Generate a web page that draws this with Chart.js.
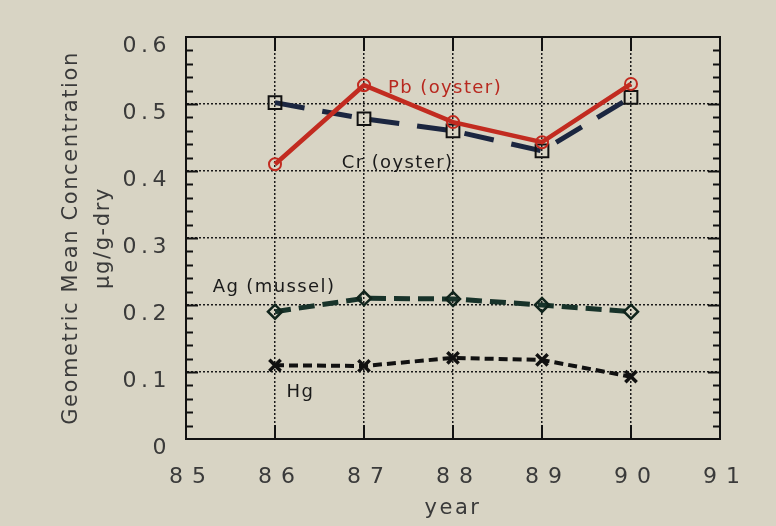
<!DOCTYPE html>
<html>
<head>
<meta charset="utf-8">
<script src="https://cdn.jsdelivr.net/npm/chart.js@4/dist/chart.umd.min.js"></script>
<style>
    html, body { margin: 0; padding: 0; background: #d8d4c4; }
    #chart { display: block; }
</style>
</head>
<body>
<canvas id="chart" width="776" height="526"></canvas>
<script>
// --- data ---
const years = [86, 87, 88, 89, 90];
const pbOyster = [0.410, 0.528, 0.473, 0.443, 0.530];
const crOyster = [0.502, 0.478, 0.460, 0.430, 0.510];
const agMussel = [0.190, 0.210, 0.209, 0.200, 0.190];
const hg = [0.110, 0.109, 0.121, 0.118, 0.093];

const xTicks = [85, 86, 87, 88, 89, 90, 91];
const yTicks = [0, 0.1, 0.2, 0.3, 0.4, 0.5, 0.6];

const toPoints = vals => years.map((yr, i) => ({ x: yr, y: vals[i] }));

const FONT = '"DejaVu Sans", sans-serif';
const INK = '#3a3a3a';

// in-plot series names, anchored in data units
const seriesLabels = [
    { text: 'Pb (oyster)', x: 87.27, y: 0.524, color: '#b8281f' },
    { text: 'Cr (oyster)', x: 86.75, y: 0.412, color: '#1a1a1a' },
    { text: 'Ag (mussel)', x: 85.30, y: 0.227, color: '#1a1a1a' },
    { text: 'Hg', x: 86.13, y: 0.069, color: '#1a1a1a' }
];

// letter spacing of the axis lettering (the original is typeset wide)
const spacing = {
    x: { ticks: '9px', title: '2.5px' },
    y: { ticks: '4.5px', title: '1.6px' }
};

const framePlugin = {
    id: 'frame',
    afterLayout(chart) {
        const ctx = chart.ctx;
        Object.values(chart.scales).forEach(scale => {
            if (scale._spaced) return;
            scale._spaced = true;
            const s = spacing[scale.id];
            const drawTitle = scale.drawTitle.bind(scale);
            const drawLabels = scale.drawLabels.bind(scale);
            scale.drawTitle = () => {
                ctx.letterSpacing = s.title;
                drawTitle();
                ctx.letterSpacing = '0px';
            };
            scale.drawLabels = area => {
                ctx.letterSpacing = s.ticks;
                drawLabels(area);
                ctx.letterSpacing = '0px';
            };
        });
    },
    beforeDraw(chart) {
        const ctx = chart.ctx;
        ctx.save();
        ctx.fillStyle = '#d8d4c4';
        ctx.fillRect(0, 0, chart.width, chart.height);
        ctx.restore();
    },
    afterDraw(chart) {
        const { ctx, chartArea: a, scales: { x, y } } = chart;
        ctx.save();
        ctx.strokeStyle = '#111';
        ctx.lineWidth = 2;
        ctx.strokeRect(a.left, a.top, a.right - a.left, a.bottom - a.top);

        ctx.beginPath();
        // minor ticks left/right
        for (let v = 0.02; v < 0.6; v += 0.02) {
            const py = Math.round(y.getPixelForValue(v)) + 0.5;
            const major = Math.abs(v * 10 - Math.round(v * 10)) < 1e-6;
            const len = major ? 12 : 7;
            ctx.moveTo(a.left, py); ctx.lineTo(a.left + len, py);
            ctx.moveTo(a.right, py); ctx.lineTo(a.right - len, py);
        }
        // major ticks top/bottom
        xTicks.slice(1, -1).forEach(t => {
            const px = Math.round(x.getPixelForValue(t));
            ctx.moveTo(px, a.bottom); ctx.lineTo(px, a.bottom - 14);
            ctx.moveTo(px, a.top); ctx.lineTo(px, a.top + 14);
        });
        ctx.stroke();

        ctx.font = '18px ' + FONT;
        ctx.textAlign = 'left';
        ctx.textBaseline = 'middle';
        ctx.letterSpacing = '1.4px';
        seriesLabels.forEach(l => {
            ctx.fillStyle = l.color;
            ctx.fillText(l.text, x.getPixelForValue(l.x), y.getPixelForValue(l.y));
        });
        ctx.restore();
    }
};

new Chart(document.getElementById('chart'), {
    type: 'line',
    data: {
        datasets: [
            {
                label: 'Pb (oyster)',
                data: toPoints(pbOyster),
                borderColor: '#c22b20',
                borderWidth: 4.5,
                pointStyle: 'circle',
                pointRadius: 6,
                pointBorderWidth: 2,
                pointBorderColor: '#c22b20',
                pointBackgroundColor: 'rgba(0,0,0,0)',
                order: 0
            },
            {
                label: 'Cr (oyster)',
                data: toPoints(crOyster),
                borderColor: '#1b2640',
                borderWidth: 5,
                borderDash: [30, 18],
                pointStyle: 'rect',
                pointRadius: 9,
                pointBorderWidth: 2,
                pointBorderColor: '#111',
                pointBackgroundColor: 'rgba(0,0,0,0)',
                order: 1
            },
            {
                label: 'Ag (mussel)',
                data: toPoints(agMussel),
                borderColor: '#18332a',
                borderWidth: 5,
                borderDash: [16, 8],
                pointStyle: 'rectRot',
                pointRadius: 7,
                pointBorderWidth: 2.5,
                pointBorderColor: '#10241c',
                pointBackgroundColor: 'rgba(0,0,0,0)',
                order: 2
            },
            {
                label: 'Hg',
                data: toPoints(hg),
                borderColor: '#111',
                borderWidth: 4,
                borderDash: [9, 5],
                pointStyle: 'crossRot',
                pointRadius: 8,
                pointBorderWidth: 3.5,
                pointBorderColor: '#111',
                order: 3
            }
        ]
    },
    options: {
        responsive: false,
        animation: false,
        layout: { padding: { top: 37, right: 56, left: 0, bottom: 0 } },
        plugins: {
            legend: { display: false },
            tooltip: { enabled: false }
        },
        scales: {
            x: {
                type: 'linear',
                min: 85,
                max: 91,
                afterBuildTicks: s => { s.ticks = xTicks.map(v => ({ value: v })); },
                afterFit: s => { s.height = 87; },
                grid: { color: '#1a1a1a', lineWidth: 1.5, drawTicks: false },
                border: { display: true, color: '#111', width: 2, dash: [2, 2] },
                ticks: {
                    color: INK,
                    padding: 25,
                    labelOffset: 6,
                    font: { family: FONT, size: 22 },
                    callback: v => String(v)
                },
                title: {
                    display: true,
                    text: 'year',
                    color: INK,
                    font: { family: FONT, size: 21 },
                    padding: { top: 0, bottom: 5 }
                }
            },
            y: {
                min: 0,
                max: 0.6,
                afterBuildTicks: s => { s.ticks = yTicks.map(v => ({ value: v })); },
                afterFit: s => { s.width = 186; },
                grid: { color: '#1a1a1a', lineWidth: 1.5, drawTicks: false },
                border: { display: true, color: '#111', width: 2, dash: [2, 2] },
                ticks: {
                    color: INK,
                    padding: 15,
                    labelOffset: 9,
                    font: { family: FONT, size: 22 },
                    callback: v => (v === 0 ? '0' : v.toFixed(1))
                },
                title: {
                    display: true,
                    text: ['Geometric Mean Concentration', 'µg/g-dry'],
                    color: INK,
                    font: { family: FONT, size: 21, lineHeight: 1.5 },
                    padding: { top: 56, bottom: 0 }
                }
            }
        }
    },
    plugins: [framePlugin]
});
</script>
</body>
</html>
